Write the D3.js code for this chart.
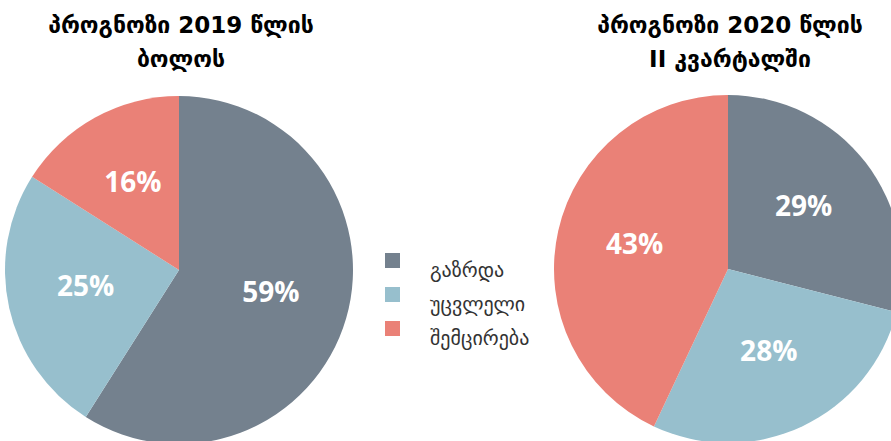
<!DOCTYPE html>
<html>
<head>
<meta charset="utf-8">
<script src="https://cdn.jsdelivr.net/npm/d3@7"></script>
<style>
  html, body { margin: 0; padding: 0; background: #fff; }
  svg { display: block; }
</style>
</head>
<body>
<svg id="chart"></svg>
<script>
const categories = ['გაზრდა', 'უცვლელი', 'შემცირება'];
const colors = ['#74818e', '#97bfcd', '#ea8177'];

const title2019 = ['პროგნოზი 2019 წლის', 'ბოლოს'];
const values2019 = [59, 25, 16];

const title2020 = ['პროგნოზი 2020 წლის', 'II კვარტალში'];
const values2020 = [29, 28, 43];

const width = 891;
const height = 441;
const radius = 174;

const svg = d3.select('#chart')
  .attr('width', width)
  .attr('height', height);

const color = d3.scaleOrdinal().domain(categories).range(colors);

const pie = d3.pie().sort(null).value(d => d.value);
const arc = d3.arc().innerRadius(0).outerRadius(radius);
const labelArc = d3.arc().innerRadius(radius * 0.55).outerRadius(radius * 0.55);

function drawPie(cx, cy, titleLines, values) {
  const data = categories.map((c, i) => ({ name: c, value: values[i] }));

  // title
  svg.append('g')
    .attr('class', 'pie-title')
    .selectAll('text')
    .data(titleLines)
    .enter()
    .append('text')
    .attr('x', cx + 2)
    .attr('y', (d, i) => 33 + i * 34)
    .attr('text-anchor', 'middle')
    .attr('font-family', 'DejaVu Sans, sans-serif')
    .attr('font-weight', '700')
    .attr('font-size', '23px')
    .attr('fill', '#000')
    .text(d => d);

  const g = svg.append('g')
    .attr('transform', 'translate(' + cx + ',' + cy + ')');

  g.selectAll('path')
    .data(pie(data))
    .enter()
    .append('path')
    .attr('d', arc)
    .attr('fill', d => color(d.data.name));

  // percent labels
  g.selectAll('text')
    .data(pie(data))
    .enter()
    .append('text')
    .attr('transform', d => 'translate(' + labelArc.centroid(d) + ')')
    .attr('text-anchor', 'middle')
    .attr('dy', '0.2em')
    .attr('font-family', 'Open Sans, sans-serif')
    .attr('font-weight', '700')
    .attr('font-size', '28px')
    .attr('fill', '#fff')
    .text(d => d.data.value + '%');
}

drawPie(179, 270, title2019, values2019);
drawPie(728, 269, title2020, values2020);

// legend
const legend = svg.append('g')
  .attr('class', 'legend')
  .attr('transform', 'translate(385,253)');

const item = legend.selectAll('g')
  .data(categories)
  .enter()
  .append('g')
  .attr('transform', (d, i) => 'translate(0,' + i * 34 + ')');

item.append('rect')
  .attr('width', 15)
  .attr('height', 15)
  .attr('fill', d => color(d));

item.append('text')
  .attr('x', 45)
  .attr('y', 24)
  .attr('font-family', 'DejaVu Sans, sans-serif')
  .attr('font-size', '20px')
  .attr('fill', '#333')
  .text(d => d);
</script>
</body>
</html>
